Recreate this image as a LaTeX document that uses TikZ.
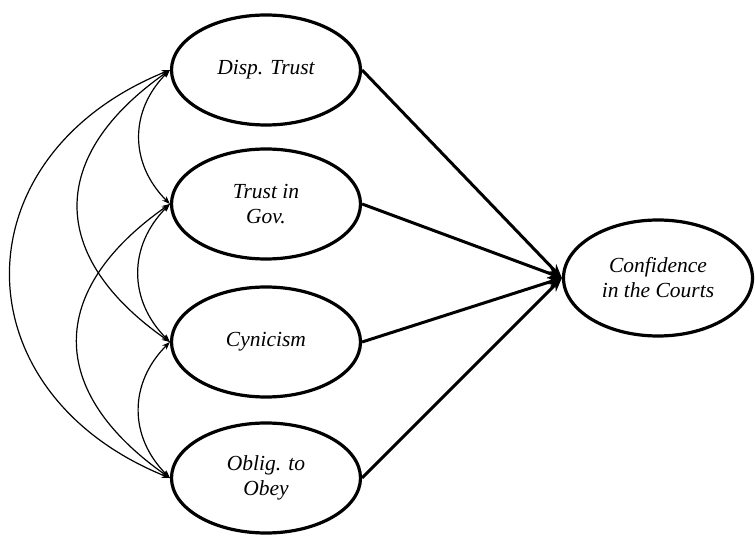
\documentclass[tikz,border=0pt]{standalone}
\usepackage{fontspec}
\setmainfont{Liberation Serif}
\usepackage{tikz}
\usetikzlibrary{positioning,shapes.geometric,arrows.meta}

\tikzset{
	latent/.style={ellipse, draw, line width=3.2pt, minimum width=189pt, minimum height=110pt, inner sep=0pt, align=center, font=\fontsize{21.5}{25}\selectfont\itshape},
	path/.style={line width=3pt, -{Stealth[length=14pt, width=11pt]}},
	covar/.style={line width=1.2pt, {Stealth[length=8pt, width=6pt]}-{Stealth[length=8pt, width=6pt]}}
}

\begin{document}
\begin{tikzpicture}[x=1pt, y=1pt]
	\useasboundingbox (0,0) rectangle (755,541);
	\node[latent] (disp) at (266, 471) {Disp. Trust};
	\node[latent] (gov) at (266, 337) {Trust in\\Gov.};
	\node[latent] (cyn) at (266, 199) {Cynicism};
	\node[latent] (obl) at (266, 63) {Oblig. to\\Obey};
	\node[latent, minimum height=116pt] (conf) at (658, 263) {Confidence\\in the Courts};
	\draw[path] (disp.east) -- (conf.west);
	\draw[path] (gov.east) -- (conf.west);
	\draw[path] (cyn.east) -- (conf.west);
	\draw[path] (obl.east) -- (conf.west);
	\draw[covar] (disp.west) to[out=225, in=135, looseness=1.1] (gov.west);
	\draw[covar] (gov.west) to[out=225, in=135, looseness=1.1] (cyn.west);
	\draw[covar] (cyn.west) to[out=225, in=135, looseness=1.1] (obl.west);
	\draw[covar] (disp.west) to[out=215, in=145, looseness=1.41] (cyn.west);
	\draw[covar] (gov.west) to[out=215, in=145, looseness=1.41] (obl.west);
	\draw[covar] (disp.west) to[out=202, in=158, looseness=1.44] (obl.west);
\end{tikzpicture}
\end{document}
